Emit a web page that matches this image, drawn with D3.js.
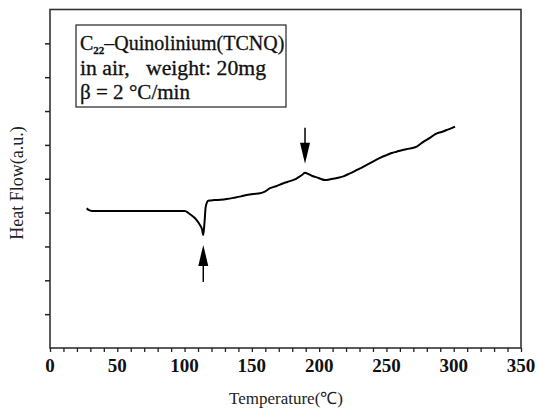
<!DOCTYPE html>
<html>
<head>
<meta charset="utf-8">
<script src="https://d3js.org/d3.v7.min.js"></script>
<style>
  body { margin: 0; background: #fff; }
  svg { display: block; }
</style>
</head>
<body>
<svg></svg>
<script>
const width = 538;
const height = 411;
const margin = { top: 9.5, right: 17, bottom: 63, left: 50 };

// DSC trace: temperature (C) / heat flow (a.u.)
const temps = [27.3, 29, 31, 40, 50, 60, 70, 80, 90, 100.3, 103, 106.5, 109, 111.5, 113, 113.9,
  114.8, 115.7, 117.6, 122, 127, 131.3, 137, 142, 146.2, 151, 156.1, 160, 163.5, 168, 173,
  178.3, 182, 184.5, 187.5, 189.5, 192, 195, 198.2, 201, 204.3, 209, 214, 218, 222.9, 228,
  233, 237.8, 242, 246, 250.2, 254, 257.6, 262, 267, 272.5, 275, 277.4, 282, 287.4, 291,
  294.8, 298, 301];
const heatFlow = [4.13, 4.07, 4.05, 4.05, 4.05, 4.05, 4.05, 4.05, 4.05, 4.05, 3.98, 3.88, 3.78, 3.63,
  3.5, 3.34, 3.7, 4.17, 4.35, 4.37, 4.38, 4.40, 4.44, 4.48, 4.52, 4.55, 4.57, 4.63, 4.72,
  4.78, 4.86, 4.93, 4.98, 5.04, 5.12, 5.18, 5.14, 5.08, 5.04, 5.0, 4.96, 4.99, 5.03, 5.07,
  5.16, 5.26, 5.36, 5.46, 5.55, 5.63, 5.70, 5.76, 5.80, 5.85, 5.89, 5.95, 6.02, 6.09, 6.2,
  6.34, 6.38, 6.44, 6.49, 6.54];

const xTicks = [0, 50, 100, 150, 200, 250, 300, 350];
const legendLines = ["C", "in air,\u00a0\u00a0 weight: 20mg", "\u03b2 = 2 \u00b0C/min"];
const arrowAt = [113.9, 189.5]; // temperatures marked with arrows

const svg = d3.select('svg')
  .attr('width', width)
  .attr('height', height);

const x = d3.scaleLinear().domain([0, 350]).range([margin.left, width - margin.right]);
const y = d3.scaleLinear().domain([0, 10]).range([height - margin.bottom, margin.top]);

// frame
svg.append('rect')
  .attr('x', x(0)).attr('y', y(10))
  .attr('width', x(350) - x(0)).attr('height', y(0) - y(10))
  .attr('fill', 'none').attr('stroke', '#333').attr('stroke-width', 1.6);

// bottom axis
const xAxis = svg.append('g')
  .attr('transform', `translate(0,${y(0)})`)
  .call(d3.axisBottom(x).tickValues(d3.range(0, 351, 10)).tickSize(4).tickFormat(''));
xAxis.select('.domain').remove();
xAxis.selectAll('line').attr('stroke', '#222').attr('stroke-width', 1.3);

svg.append('g').selectAll('text')
  .data(xTicks)
  .enter().append('text')
  .attr('x', d => x(d))
  .attr('y', y(0) + 24)
  .attr('text-anchor', 'middle')
  .attr('font-family', 'Liberation Serif')
  .attr('font-weight', 'bold')
  .attr('font-size', 19)
  .attr('fill', '#111')
  .text(d => d);

// left axis
const yAxis = svg.append('g')
  .attr('transform', `translate(${x(0)},0)`)
  .call(d3.axisLeft(y).tickValues(d3.range(1, 10)).tickSize(5).tickFormat(''));
yAxis.select('.domain').remove();
yAxis.selectAll('line').attr('stroke', '#222').attr('stroke-width', 1.5);

// axis titles
svg.append('text')
  .attr('x', 286).attr('y', 404)
  .attr('text-anchor', 'middle')
  .attr('font-family', 'Liberation Serif')
  .attr('font-size', 17)
  .attr('fill', '#222')
  .text('Temperature(\u2103)');

svg.append('text')
  .attr('transform', 'translate(23,183) rotate(-90)')
  .attr('text-anchor', 'middle')
  .attr('font-family', 'Liberation Serif')
  .attr('font-size', 18)
  .attr('fill', '#222')
  .text('Heat Flow(a.u.)');

// curve
const data = temps.map((t, i) => [t, heatFlow[i]]);
svg.append('path')
  .datum(data)
  .attr('fill', 'none')
  .attr('stroke', '#000')
  .attr('stroke-width', 2)
  .attr('stroke-linejoin', 'round')
  .attr('d', d3.line().x(d => x(d[0])).y(d => y(d[1])).curve(d3.curveMonotoneX));

// arrows
const valAt = t => heatFlow[temps.indexOf(t)];
const up = arrowAt[0], down = arrowAt[1];
const ux = x(up), uy = y(valAt(up)) + 10;
svg.append('path')
  .attr('d', `M${ux},${uy} L${ux - 5},${uy + 21} L${ux + 5},${uy + 21} Z`)
  .attr('fill', '#000');
svg.append('line')
  .attr('x1', ux).attr('x2', ux).attr('y1', uy + 20).attr('y2', uy + 37)
  .attr('stroke', '#000').attr('stroke-width', 1.5);

const dx = x(down), dy = y(valAt(down)) - 9;
svg.append('path')
  .attr('d', `M${dx},${dy} L${dx - 5},${dy - 21} L${dx + 5},${dy - 21} Z`)
  .attr('fill', '#000');
svg.append('line')
  .attr('x1', dx).attr('x2', dx).attr('y1', dy - 20).attr('y2', dy - 36)
  .attr('stroke', '#000').attr('stroke-width', 1.5);

// legend box
const legend = svg.append('g')
  .attr('font-family', 'Liberation Serif')
  .attr('font-size', 20)
  .attr('fill', '#111')
  .attr('stroke', '#111')
  .attr('stroke-width', 0.3);
legend.append('rect')
  .attr('x', 76).attr('y', 25).attr('width', 210).attr('height', 82)
  .attr('fill', '#fff').attr('stroke', '#222').attr('stroke-width', 1.2);

const t1 = legend.append('text')
  .attr('x', 80).attr('y', 50);
t1.append('tspan').text(legendLines[0]);
t1.append('tspan').attr('font-size', 11).attr('font-weight', 'bold').attr('dy', 4).text('22');
t1.append('tspan').attr('dy', -4).text('\u2013Quinolinium(TCNQ)');

legend.append('text')
  .attr('x', 80).attr('y', 75)
  .attr('textLength', 186).attr('lengthAdjust', 'spacingAndGlyphs')
  .text(legendLines[1]);

legend.append('text')
  .attr('x', 80).attr('y', 99)
  .attr('textLength', 110).attr('lengthAdjust', 'spacingAndGlyphs')
  .text(legendLines[2]);
</script>
</body>
</html>
